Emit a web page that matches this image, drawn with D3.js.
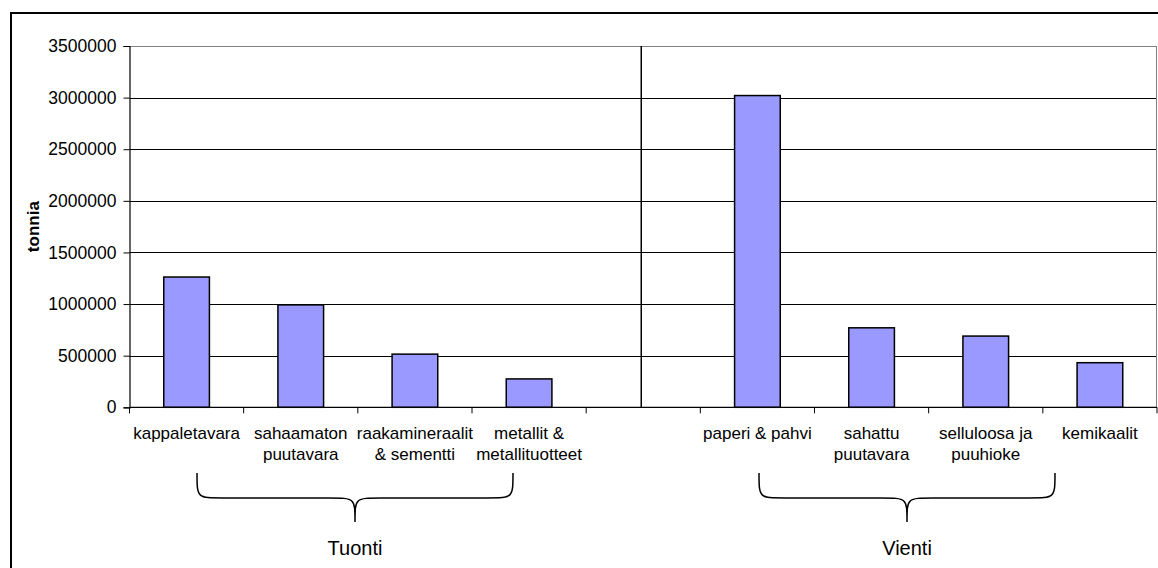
<!DOCTYPE html>
<html>
<head>
<meta charset="utf-8">
<script src="https://cdn.jsdelivr.net/npm/d3@7"></script>
<style>
  html, body { margin: 0; padding: 0; background: #fff; }
  svg { display: block; font-family: "Liberation Sans", Arial, sans-serif; }
</style>
</head>
<body>
<svg id="chart" width="1158" height="568"></svg>
<script>
// Category slots (an empty slot separates imports from exports)
const categories = ["kappaletavara", "sahaamaton puutavara", "raakamineraalit & sementti",
  "metallit & metallituotteet", "_gap", "paperi & pahvi", "sahattu puutavara",
  "selluloosa ja puuhioke", "kemikaalit"];
// Wrapped axis labels, one array of lines per category
const categoryLabels = [["kappaletavara"], ["sahaamaton", "puutavara"], ["raakamineraalit", "& sementti"],
  ["metallit &", "metallituotteet"], [], ["paperi & pahvi"], ["sahattu", "puutavara"],
  ["selluloosa ja", "puuhioke"], ["kemikaalit"]];
// Tonnage per category
const tonnes = [1262000, 992000, 515000, 275000, null, 3020000, 770000, 690000, 432000];
// Y axis ticks
const yTicks = [0, 500000, 1000000, 1500000, 2000000, 2500000, 3000000, 3500000];
const yTitle = "tonnia";
// Groups shown under the axis with a curly brace
const groups = ["Tuonti", "Vienti"];

const svg = d3.select("#chart");
const plot = { left: 129.5, right: 1157, top: 46, bottom: 407.3 };

const x = d3.scaleBand().domain(categories).range([plot.left, plot.right])
  .paddingInner(0.6).paddingOuter(0.3);
const y = d3.scaleLinear().domain([0, 3500000]).range([plot.bottom, plot.top]);

// Outer chart frame
svg.append("rect").attr("x", 11).attr("y", 13).attr("width", 1200).attr("height", 600)
  .attr("fill", "none").attr("stroke", "#000").attr("stroke-width", 2);

// Gridlines
svg.append("g").selectAll("line").data(yTicks.filter(d => d > 0)).join("line")
  .attr("x1", plot.left).attr("x2", plot.right)
  .attr("y1", d => Math.round(y(d)) + 0.5).attr("y2", d => Math.round(y(d)) + 0.5)
  .attr("stroke", d => d === 3500000 ? "#808080" : "#000").attr("stroke-width", 1);

// Plot area right edge
svg.append("line").attr("x1", plot.right - 0.5).attr("x2", plot.right - 0.5)
  .attr("y1", plot.top).attr("y2", plot.bottom).attr("stroke", "#808080");

// Separator between the two groups
const sepX = x("_gap") + x.bandwidth() / 2 - 2;
svg.append("line").attr("x1", sepX).attr("x2", sepX)
  .attr("y1", plot.top).attr("y2", plot.bottom).attr("stroke", "#000").attr("stroke-width", 1.5);

// Bars
const rows = categories.map((c, i) => ({ c, v: tonnes[i] })).filter(d => d.v !== null);
svg.append("g").selectAll("rect").data(rows).join("rect")
  .attr("x", d => x(d.c)).attr("width", x.bandwidth())
  .attr("y", d => y(d.v)).attr("height", d => y(0) - y(d.v))
  .attr("fill", "#9999FF").attr("stroke", "#000").attr("stroke-width", 1.5);

// Y axis
const yAxis = svg.append("g").attr("transform", `translate(${plot.left},0)`)
  .call(d3.axisLeft(y).tickValues(yTicks).tickSize(6).tickPadding(7).tickFormat(d3.format("d")));
yAxis.select(".domain").attr("stroke", "#000").attr("stroke-width", 1.2);
yAxis.selectAll(".tick line").attr("stroke", "#000");
yAxis.selectAll(".tick text").attr("font-size", 17.5).attr("fill", "#000")
  .attr("font-family", "'Liberation Sans', Arial, sans-serif");

// X axis line and ticks at slot boundaries
svg.append("line").attr("x1", plot.left).attr("x2", plot.right)
  .attr("y1", plot.bottom).attr("y2", plot.bottom).attr("stroke", "#000").attr("stroke-width", 1.2);
const step = x.step();
const bounds = d3.range(categories.length + 1).map(i => plot.left + i * step);
svg.append("g").selectAll("line").data(bounds).join("line")
  .attr("x1", d => d).attr("x2", d => d)
  .attr("y1", plot.bottom).attr("y2", plot.bottom + 6).attr("stroke", "#000");

// Category labels
const lab = svg.append("g").attr("font-size", 17).attr("text-anchor", "middle").attr("fill", "#000");
categories.forEach((c, i) => {
  const cx = x(c) + x.bandwidth() / 2;
  categoryLabels[i].forEach((line, j) => {
    lab.append("text").attr("x", cx).attr("y", 439 + j * 21).text(line);
  });
});

// Y title
svg.append("text").attr("transform", `translate(39,${(plot.top + plot.bottom) / 2}) rotate(-90)`)
  .attr("text-anchor", "middle").attr("font-size", 17).attr("font-weight", "bold").text(yTitle);

// Curly braces with group names
function brace(x0, x1, yTop, yMid, yTip) {
  const xm = (x0 + x1) / 2, r = 26;
  return `M${x0},${yTop} C${x0},${yMid} ${x0},${yMid} ${x0 + r},${yMid} ` +
    `L${xm - r},${yMid} C${xm},${yMid} ${xm},${yMid} ${xm},${yTip} ` +
    `C${xm},${yMid} ${xm},${yMid} ${xm + r},${yMid} ` +
    `L${x1 - r},${yMid} C${x1},${yMid} ${x1},${yMid} ${x1},${yTop}`;
}
const braceSpans = [[197, 513], [759, 1055]];
groups.forEach((g, i) => {
  const [a, b] = braceSpans[i];
  svg.append("path").attr("d", brace(a, b, 473, 498, 522))
    .attr("fill", "none").attr("stroke", "#000").attr("stroke-width", 1.5);
  svg.append("text").attr("x", (a + b) / 2).attr("y", 555).attr("text-anchor", "middle")
    .attr("font-size", 20).text(g);
});
</script>
</body>
</html>
